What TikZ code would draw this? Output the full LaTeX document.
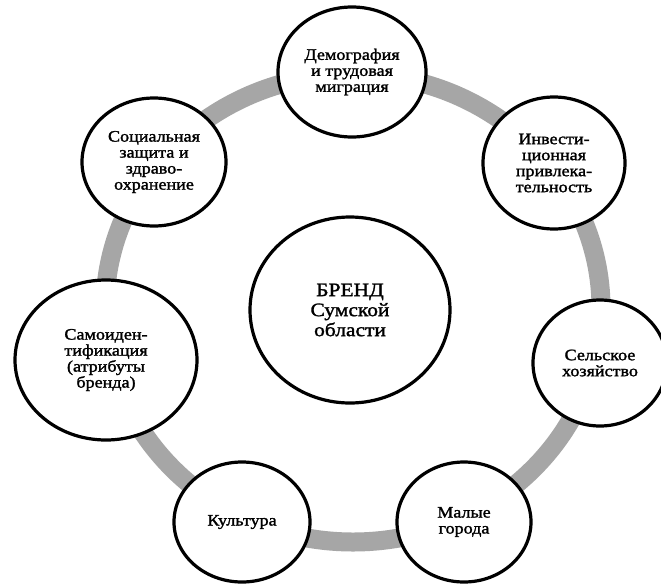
\documentclass[tikz,border=0pt]{standalone}
\usepackage{fontspec}
\setmainfont{Liberation Serif}[FakeStretch=1.13]
\newfontfamily\heavyish{Liberation Serif}[FakeStretch=1.13,FakeBold=1.6]
\usetikzlibrary{shapes.geometric}
\definecolor{ringgray}{HTML}{A6A6A6}
\tikzset{
  bub/.style={ellipse, draw=black, line width=3.2pt, fill=white, inner sep=0pt,
    align=center, font=\heavyish\fontsize{16}{16}\selectfont},
  bigbub/.style={bub, font=\heavyish\fontsize{19}{20}\selectfont},
  ring/.style={draw=ringgray, line width=19pt},
}
\begin{document}
\begin{tikzpicture}[x=1pt,y=-1pt]
\useasboundingbox (0,0) rectangle (661,584);
\fill[white] (0,0) rectangle (661,584);
\coordinate (ringc) at (353,308);
\draw[ring] (ringc) ellipse [x radius=248pt, y radius=234pt];
\node[bub, minimum width=148pt, minimum height=130pt] (demo) at (352,72) {Демография\\и трудовая\\миграция};
\node[bub, minimum width=142pt, minimum height=132pt] (invest) at (554,163) {Инвести-\\ционная\\привлека-\\тельность};
\node[bub, minimum width=134pt, minimum height=126pt] (selsk) at (600,363) {Сельское\\хозяйство};
\node[bub, minimum width=134pt, minimum height=120pt] (malye) at (464,522) {Малые\\города};
\node[bub, minimum width=136pt, minimum height=120pt] (kult) at (242,522) {Культура};
\node[bub, minimum width=182pt, minimum height=160pt] (samo) at (106,360) {Самоиден-\\тификация\\(атрибуты\\бренда)};
\node[bub, minimum width=144pt, minimum height=128pt] (social) at (154,162) {Социальная\\защита и\\здраво-\\охранение};
\node[bigbub, minimum width=200pt, minimum height=186pt] (brand) at (350,310) {БРЕНД\\Сумской\\области};
\end{tikzpicture}
\end{document}
